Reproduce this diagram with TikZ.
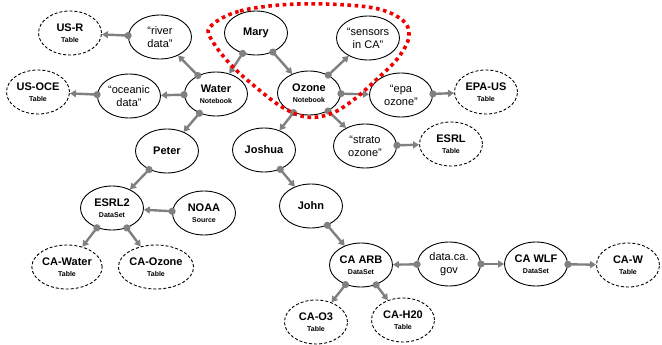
\documentclass[tikz,border=0pt]{standalone}
\usepackage{fontspec}
\setmainfont{Liberation Sans}
\usetikzlibrary{shapes.geometric,arrows.meta}
\definecolor{conngray}{HTML}{808080}
\definecolor{hlred}{HTML}{F00000}
\tikzset{
  nd/.style={ellipse, draw=black, line width=0.9pt, minimum width=63pt, minimum height=44pt, inner sep=0pt, align=center, fill=white},
  qnd/.style={nd, font=\fontsize{11}{13}\selectfont},
  tbl/.style={nd, dashed, dash pattern=on 3pt off 2pt},
  conn/.style={draw=conngray, line width=2.4pt, {Circle[length=7pt,width=7pt]}-{Triangle[length=6pt,width=7pt]}, shorten <=-3.5pt},
  hl/.style={draw=hlred, line width=3.6pt, dash pattern=on 3.6pt off 3.6pt}
}
\newcommand{\nmtxt}[2]{{\fontsize{11}{12}\selectfont\bfseries #1}\\[-1pt]{\fontsize{7}{8}\selectfont\bfseries #2}}
\newcommand{\nmone}[1]{{\fontsize{11}{12}\selectfont\bfseries #1}}
\begin{document}
\begin{tikzpicture}[x=1pt,y=-1pt]
\useasboundingbox (0,0) rectangle (662,345);
% nodes
\node[tbl] (usr) at (70,33) {\nmtxt{US-R}{Table}};
\node[qnd] (river) at (160,37) {``river\\data''};
\node[tbl] (usoce) at (38,92) {\nmtxt{US-OCE}{Table}};
\node[qnd] (oceanic) at (129,96) {``oceanic\\data''};
\node[nd] (water) at (216,94) {\nmtxt{Water}{Notebook}};
\node[nd] (mary) at (256,33) {\nmone{Mary}};
\node[qnd] (sensors) at (368,38) {``sensors\\in CA''};
\node[nd] (ozone) at (309,93) {\nmtxt{Ozone}{Notebook}};
\node[qnd] (epa) at (401,95) {``epa\\ozone''};
\node[tbl] (epaus) at (486,92) {\nmtxt{EPA-US}{Table}};
\node[qnd] (strato) at (365,146) {``strato\\ozone''};
\node[tbl] (esrl) at (451,144) {\nmtxt{ESRL}{Table}};
\node[nd] (peter) at (167,151) {\nmone{Peter}};
\node[nd] (esrl2) at (112,208) {\nmtxt{ESRL2}{DataSet}};
\node[nd] (noaa) at (204,213) {\nmtxt{NOAA}{Source}};
\node[tbl] (cawater) at (67,267) {\nmtxt{CA-Water}{Table}};
\node[tbl] (caozone) at (156,267) {\nmtxt{CA-Ozone}{Table}};
\node[nd] (joshua) at (264,150) {\nmone{Joshua}};
\node[nd] (john) at (311,206) {\nmone{John}};
\node[nd] (caarb) at (361,265) {\nmtxt{CA ARB}{DataSet}};
\node[tbl] (cao3) at (316,322) {\nmtxt{CA-O3}{Table}};
\node[tbl] (cah20) at (403,320) {\nmtxt{CA-H20}{Table}};
\node[qnd] (dataca) at (449,264) {data.ca.\\gov};
\node[nd] (cawlf) at (536,264) {\nmtxt{CA WLF}{DataSet}};
\node[tbl] (caw) at (628,265) {\nmtxt{CA-W}{Table}};
% connectors
\draw[conn] (river) -- (usr);
\draw[conn] (water) -- (river);
\draw[conn] (water) -- (oceanic);
\draw[conn] (oceanic) -- (usoce);
\draw[conn] (mary) -- (water);
\draw[conn] (mary) -- (ozone);
\draw[conn] (ozone) -- (sensors);
\draw[conn] (ozone) -- (epa);
\draw[conn] (epa) -- (epaus);
\draw[conn] (ozone) -- (strato);
\draw[conn] (ozone) -- (joshua);
\draw[conn] (strato) -- (esrl);
\draw[conn] (water) -- (peter);
\draw[conn] (peter) -- (esrl2);
\draw[conn] (noaa) -- (esrl2);
\draw[conn] (esrl2) -- (cawater);
\draw[conn] (esrl2) -- (caozone);
\draw[conn] (joshua) -- (john);
\draw[conn] (john) -- (caarb);
\draw[conn] (dataca) -- (caarb);
\draw[conn] (caarb) -- (cao3);
\draw[conn] (caarb) -- (cah20);
\draw[conn] (dataca) -- (cawlf);
\draw[conn] (cawlf) -- (caw);
% highlight
\draw[hl] plot[smooth cycle, tension=0.6] coordinates {(210,27) (240,11) (298,4) (368,7) (401,19) (409,36) (398,58) (376,80) (352,101) (330,114) (306,117) (282,107) (258,89) (232,66) (213,42)};
\end{tikzpicture}
\end{document}
